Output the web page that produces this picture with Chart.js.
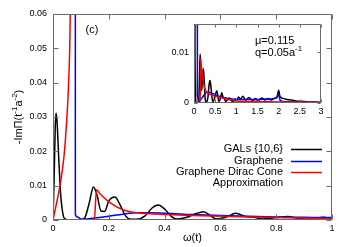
<!DOCTYPE html>
<html>
<head>
<meta charset="UTF-8">
<title>-ImPi GALs</title>
<script src="https://cdn.jsdelivr.net/npm/chart.js"></script>
<style>
  body { margin: 0; background: #fff; }
  #wrap { position: relative; width: 353px; height: 247px; }
  canvas { position: absolute; left: 0; top: 0; }
</style>
</head>
<body>
<div id="wrap">
  <canvas id="main" width="353" height="247"></canvas>
  <canvas id="inset" width="353" height="247"></canvas>
</div>
<script>
// GALs {10,6}
const galX = [0, 0.004, 0.008, 0.011, 0.015, 0.02, 0.027, 0.035, 0.043, 0.06, 0.1, 0.115, 0.13, 0.145, 0.158, 0.172,
  0.185, 0.2, 0.222, 0.24, 0.26, 0.28, 0.3, 0.33, 0.355, 0.377, 0.4, 0.425, 0.445, 0.48, 0.51, 0.54, 0.565, 0.585,
  0.62, 0.655, 0.69, 0.72, 0.75, 0.8, 0.84, 0.88, 0.92, 0.97, 1.0, 1.05, 1.1, 1.15, 1.22, 1.3, 1.38, 1.45, 1.52,
  1.6, 1.68, 1.75, 1.82, 1.9, 1.96, 2.0, 2.03, 2.1, 2.2, 2.3, 2.4, 2.6, 2.8, 3.0];
const galY = [0, 0.012, 0.027, 0.0312, 0.028, 0.019, 0.008, 0.002, 0.0003, 0, 0, 0.0008, 0.005, 0.0096, 0.0072, 0.0026,
  0.0025, 0.0055, 0.0067, 0.0045, 0.0012, 0.0002, 0.0002, 0.0012, 0.0035, 0.0044, 0.0032, 0.001, 0.0003, 0.0008, 0.0018, 0.0024, 0.0012, 0.0003,
  0.0008, 0.002, 0.001, 0.0008, 0.0003, 0.0007, 0.001, 0.0005, 0.0002, 0.0008, 0.0004, 0.0012, 0.0007, 0.0013, 0.0006, 0.0011, 0.0005, 0.0009, 0.0005,
  0.001, 0.0006, 0.0009, 0.0006, 0.0009, 0.0012, 0.0025, 0.0013, 0.0009, 0.0007, 0.0006, 0.0004, 0.0003, 0.0002, 0.00015];

// Graphene
const grX = [0.08, 0.0801, 0.09, 0.1, 0.12, 0.15, 0.2, 0.25, 0.3, 0.35, 0.4, 0.5, 0.6, 0.7, 0.8, 0.9, 1.0,
  1.2, 1.5, 1.8, 1.95, 2.0, 2.03, 2.1, 2.5, 3.0];
const grY = [0.5, 0.0016, 0.0008, 0.0003, 0.0003, 0.0006, 0.0011, 0.0017, 0.0021, 0.0021, 0.002, 0.0016, 0.0013, 0.0011, 0.0009, 0.0008, 0.0007,
  0.0007, 0.0007, 0.0008, 0.001, 0.0017, 0.0006, 0.0003, 0.0002, 0.0001];

// Graphene Dirac Cone Approximation
const dcX = [0, 0.01, 0.02, 0.025, 0.03, 0.04, 0.045, 0.05, 0.055, 0.06, 0.065, 0.067, 0.07, 0.148, 0.156, 0.17,
  0.2, 0.25, 0.3, 0.35, 0.4, 0.5, 0.6, 0.8, 1.0, 1.5, 2.0, 3.0];
const dcY = [0, 0.0038, 0.0078, 0.01, 0.0125, 0.019, 0.024, 0.03, 0.038, 0.05, 0.075, null, 0, 0, 0.0088, 0.0075,
  0.0053, 0.003, 0.0021, 0.0018, 0.0016, 0.0013, 0.0011, 0.0007, 0.0004, 0.0003, 0.0002, 0.0001];

const xTicks = [0, 0.2, 0.4, 0.6, 0.8, 1];
const yTicks = [0, 0.01, 0.02, 0.03, 0.04, 0.05, 0.06];
const insetXTicks = [0, 0.5, 1, 1.5, 2, 2.5, 3];
const insetYTicks = [0, 0.01];

const FONT = 'Liberation Sans, Arial, sans-serif';
const pts = (xs, ys) => xs.map((x, i) => ({ x: x, y: ys[i] }));

function makeDatasets() {
  return [
    { label: 'GALs {10,6}', data: pts(galX, galY), borderColor: '#000000', order: 2 },
    { label: 'Graphene', data: pts(grX, grY), borderColor: '#0000ff', order: 1 },
    { label: 'Graphene Dirac Cone Approximation', data: pts(dcX, dcY), borderColor: '#ff0000', order: 0 }
  ].map(d => Object.assign(d, { borderWidth: 1.5, pointRadius: 0, cubicInterpolationMode: 'monotone', spanGaps: false, fill: false }));
}

// draws frame and inward tick marks
const frame = {
  id: 'frame',
  afterDatasetsDraw(chart, args, opts) {
    const { ctx, chartArea: a, scales: { x, y } } = chart;
    const l = Math.round(a.left) + 0.5, r = Math.round(a.right) - 0.5;
    const t = Math.round(a.top) + 0.5, b = Math.round(a.bottom) - 0.5;
    ctx.save();
    ctx.strokeStyle = '#6a6a6a';
    ctx.lineWidth = 1;
    ctx.beginPath();
    ctx.rect(l, t, r - l, b - t);
    x.ticks.forEach(tk => {
      const px = Math.round(x.getPixelForValue(tk.value)) + 0.5;
      ctx.moveTo(px, b); ctx.lineTo(px, b - opts.len);
      ctx.moveTo(px, t); ctx.lineTo(px, t + opts.len);
    });
    y.ticks.forEach(tk => {
      const py = Math.round(y.getPixelForValue(tk.value)) + 0.5;
      ctx.moveTo(l, py); ctx.lineTo(l + opts.len, py);
      ctx.moveTo(r, py); ctx.lineTo(r - opts.len, py);
    });
    ctx.stroke();
    ctx.restore();
  }
};

// text with superscripts, parts = [[text, isSup], ...]
function drawRich(ctx, parts, size, align) {
  const big = size + 'px ' + FONT, small = Math.round(size * 0.7) + 'px ' + FONT;
  let w = 0;
  parts.forEach(p => { ctx.font = p[1] ? small : big; w += ctx.measureText(p[0]).width; });
  let x = align === 'center' ? -w / 2 : 0;
  ctx.textAlign = 'left';
  ctx.textBaseline = 'alphabetic';
  parts.forEach(p => {
    ctx.font = p[1] ? small : big;
    ctx.fillText(p[0], x, p[1] ? -size * 0.45 : 0);
    x += ctx.measureText(p[0]).width;
  });
}

const mainText = {
  id: 'mainText',
  afterDraw(chart) {
    const { ctx, chartArea: a } = chart;
    ctx.save();
    ctx.fillStyle = '#000';
    ctx.font = '11px ' + FONT;
    ctx.textAlign = 'center';
    ctx.textBaseline = 'middle';
    ctx.fillText('(c)', 92, 30);
    ctx.fillText('ω(t)', (a.left + a.right) / 2, 238);

    ctx.save();
    ctx.translate(22, (a.top + a.bottom) / 2);
    ctx.rotate(-Math.PI / 2);
    drawRich(ctx, [['-ImΠ(t', false], ['-1', true], ['a', false], ['-2', true], [')', false]], 11, 'center');
    ctx.restore();

    // legend
    const rows = [
      { text: 'GALs {10,6}', y: 148.5, color: '#000000' },
      { text: 'Graphene', y: 160.5, color: '#0000ff' },
      { text: 'Graphene Dirac Cone', y: 171.5, color: '#ff0000' },
      { text: 'Approximation', y: 183, color: null }
    ];
    ctx.font = '11px ' + FONT;
    ctx.textAlign = 'right';
    ctx.textBaseline = 'middle';
    ctx.lineWidth = 1.5;
    rows.forEach(rw => {
      ctx.fillText(rw.text, 283, rw.y);
      if (rw.color) {
        ctx.strokeStyle = rw.color;
        ctx.beginPath();
        ctx.moveTo(291, Math.round(rw.y) + 0.5);
        ctx.lineTo(322, Math.round(rw.y) + 0.5);
        ctx.stroke();
      }
    });
    ctx.restore();
  }
};

const insetText = {
  id: 'insetText',
  afterDraw(chart) {
    const ctx = chart.ctx;
    ctx.save();
    ctx.fillStyle = '#000';
    ctx.font = '11px ' + FONT;
    ctx.textAlign = 'left';
    ctx.textBaseline = 'middle';
    ctx.fillText('μ=0.115', 255, 40.5);
    ctx.translate(255, 56);
    drawRich(ctx, [['q=0.05a', false], ['-1', true]], 11, 'left');
    ctx.restore();
  }
};

function scales(xmin, xmax, ymax, xt, yt, yWidth, xHeight, yPad) {
  return {
    x: {
      type: 'linear', min: xmin, max: xmax,
      afterBuildTicks: s => { s.ticks = xt.map(v => ({ value: v })); },
      afterFit: s => { s.height = xHeight; },
      grid: { display: false, drawTicks: false },
      border: { display: false },
      ticks: { padding: 3, color: '#000', font: { family: FONT, size: 9 }, maxRotation: 0, callback: v => String(v) }
    },
    y: {
      type: 'linear', min: 0, max: ymax,
      afterBuildTicks: s => { s.ticks = yt.map(v => ({ value: v })); },
      afterFit: s => { s.width = yWidth; },
      grid: { display: false, drawTicks: false },
      border: { display: false },
      ticks: { padding: yPad, color: '#000', font: { family: FONT, size: 9 }, callback: v => (v === 0 ? '0' : v.toFixed(2)) }
    }
  };
}

new Chart(document.getElementById('main'), {
  type: 'line',
  data: { datasets: makeDatasets() },
  options: {
    responsive: false, animation: false, parsing: true,
    layout: { padding: { left: 0, top: 14, right: 21, bottom: 0 } },
    plugins: { legend: { display: false }, tooltip: { enabled: false }, frame: { len: 5 } },
    scales: scales(0, 1, 0.06, xTicks, yTicks, 53, 27, 6)
  },
  plugins: [frame, mainText]
});

new Chart(document.getElementById('inset'), {
  type: 'line',
  data: { datasets: makeDatasets() },
  options: {
    responsive: false, animation: false,
    layout: { padding: { left: 0, top: 24, right: 32, bottom: 0 } },
    plugins: { legend: { display: false }, tooltip: { enabled: false }, frame: { len: 3 } },
    scales: scales(0, 3, 0.0155, insetXTicks, insetYTicks, 194, 144, 5)
  },
  plugins: [frame, insetText]
});
</script>
</body>
</html>
